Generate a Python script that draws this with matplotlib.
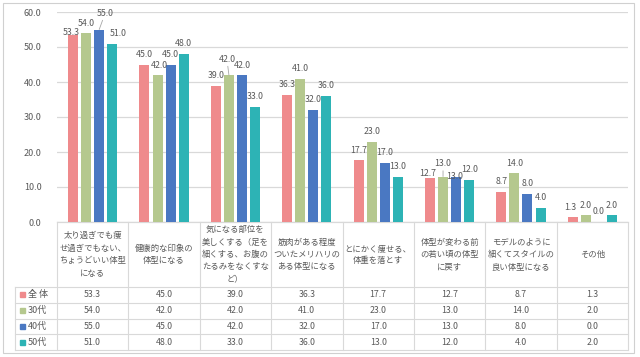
import matplotlib
matplotlib.use('Agg')
import matplotlib.pyplot as plt
from matplotlib.lines import Line2D
from matplotlib.patches import Rectangle
from matplotlib.transforms import blended_transform_factory

plt.rcParams['font.family'] = ['Noto Sans CJK JP', 'DejaVu Sans']

categories = [
    '太り過ぎでも痩\nせ過ぎでもない、\nちょうどいい体型\nになる',
    '健康的な印象の\n体型になる',
    '気になる部位を\n美しくする（足を\n細くする、お腹の\nたるみをなくすな\nど）',
    '筋肉がある程度\nついたメリハリの\nある体型になる',
    'とにかく痩せる、\n体重を落とす',
    '体型が変わる前\nの若い頃の体型\nに戻す',
    'モデルのように\n細くてスタイルの\n良い体型になる',
    'その他',
]
series_names = ['全 体', '30代', '40代', '50代']
zentai = [53.3, 45.0, 39.0, 36.3, 17.7, 12.7, 8.7, 1.3]
s30 = [54.0, 42.0, 42.0, 41.0, 23.0, 13.0, 14.0, 2.0]
s40 = [55.0, 45.0, 42.0, 32.0, 17.0, 13.0, 8.0, 0.0]
s50 = [51.0, 48.0, 33.0, 36.0, 13.0, 12.0, 4.0, 2.0]
series = [zentai, s30, s40, s50]
colors = ['#EF8A8C', '#B5C88E', '#4A78C2', '#2DB3B5']

txt = '#595959'
grid = '#D9D9D9'

fig = plt.figure(figsize=(6.4, 3.57), dpi=100)
ax = fig.add_axes([57/640, 135/357, 571/640, 210/357])

n = len(categories)
step = 0.183
width = 0.14

# label tweaks (dx, dy, leader) in pixels for overlapping labels
tweaks = {(0, 0): (-2, 3, False), (0, 2): (6, 16.5, True), (0, 3): (6, 9.5, False),
          (2, 1): (-2, 16, True), (5, 0): (-2, 4.5, False), (5, 1): (0, 13, True),
          (5, 2): (-1, 0, False), (7, 0): (-2, 10, False), (1, 1): (2, 10, False)}

for j, vals in enumerate(series):
    xs = [i + (j - 1.5) * step for i in range(n)]
    ax.bar(xs, vals, width=width, color=colors[j], zorder=3)
    for i, (x, v) in enumerate(zip(xs, vals)):
        dx, dy, leader = tweaks.get((i, j), (0, 10, False))
        kw = {}
        if leader:
            kw['arrowprops'] = dict(arrowstyle='-', color='#A6A6A6', lw=0.6,
                                    shrinkA=0, shrinkB=0)
        ax.annotate(f'{v:.1f}', (x, v), xytext=(dx, dy), textcoords='offset pixels',
                    ha='center', va='center', fontsize=6.3, color=txt, zorder=4, **kw)

ax.set_xlim(-0.5, n - 0.5)
ax.set_ylim(0, 60)
ax.set_yticks(range(0, 61, 10))
ax.set_yticklabels([f'{t:.1f}' for t in range(0, 61, 10)], fontsize=6.5, color=txt)
ax.tick_params(axis='y', length=0, pad=11)
ax.set_xticks([])
ax.grid(axis='y', color=grid, lw=0.9, zorder=0)
for s in ax.spines.values():
    s.set_visible(False)

# data table below the plot
tr = blended_transform_factory(ax.transData, ax.transAxes)
px = 1 / 210  # one pixel in axes fraction (height)
head_bot = -65 * px
row_h = 15.75 * px
table_bot = head_bot - 4 * row_h
left_lab = -42 / 571

ax.add_line(Line2D([-0.5, n - 0.5], [0, 0], transform=tr, color=grid, lw=0.9, clip_on=False))
for k in range(n + 1):
    ax.add_line(Line2D([k - 0.5, k - 0.5], [0, table_bot], transform=tr, color=grid,
                       lw=0.8, clip_on=False))
for r in range(5):
    y = head_bot - r * row_h
    ax.add_line(Line2D([left_lab, 1], [y, y], transform=ax.transAxes, color=grid,
                       lw=0.8, clip_on=False))
ax.add_line(Line2D([left_lab, left_lab], [head_bot, table_bot], transform=ax.transAxes,
                   color=grid, lw=0.8, clip_on=False))

for i, c in enumerate(categories):
    ax.text(i, head_bot / 2, c, transform=tr, ha='center', va='center', fontsize=6.0,
            color=txt, linespacing=1.5, clip_on=False)

for j, vals in enumerate(series):
    yc = head_bot - (j + 0.5) * row_h
    ax.add_patch(Rectangle((left_lab + 5 / 571, yc - 2.5 * px), 5 / 571, 5 * px,
                           transform=ax.transAxes, color=colors[j], clip_on=False))
    ax.text(left_lab + 13 / 571, yc, series_names[j], transform=ax.transAxes,
            ha='left', va='center', fontsize=6.5, color=txt, clip_on=False)
    for i, v in enumerate(vals):
        ax.text(i, yc, f'{v:.1f}', transform=tr, ha='center', va='center',
                fontsize=6.3, color=txt, clip_on=False)

# outer border
fig.add_artist(Rectangle((3/640, 4/357), 631/640, 350/357, transform=fig.transFigure,
                         fill=False, edgecolor='#D0D0D0', lw=0.8))

fig.savefig('out.png', dpi=100)
